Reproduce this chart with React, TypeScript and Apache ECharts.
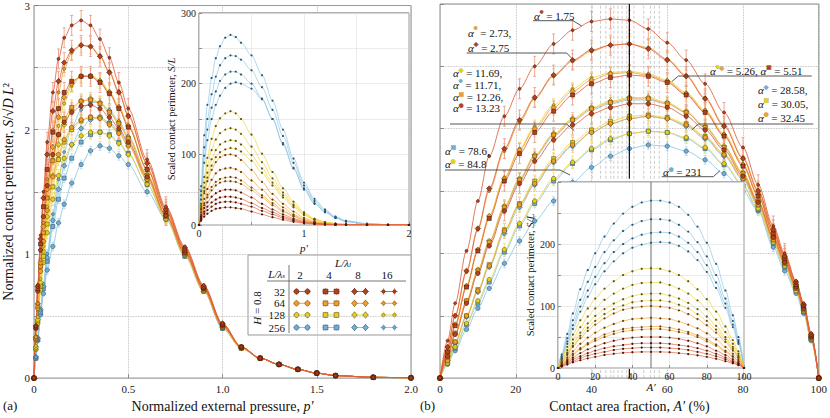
import React, { useEffect, useRef } from "react";
import * as echarts from "echarts";

const FONT = '"Liberation Serif", "DejaVu Serif", serif';

// ---------- panel (a): S/(sqrt(D) L^2) vs p' ----------
const P_A = [0, 0.01, 0.02, 0.035, 0.05, 0.07, 0.1, 0.13, 0.16, 0.2, 0.25, 0.3, 0.35, 0.4, 0.45, 0.5, 0.6, 0.7, 0.8, 0.9, 1.0, 1.1, 1.2, 1.3, 1.4, 1.5, 1.6, 1.8, 2.0];
const A_R2 = [0, 0.42, 0.75, 1.15, 1.5, 1.9, 2.3, 2.57, 2.74, 2.84, 2.88, 2.84, 2.73, 2.58, 2.38, 2.17, 1.76, 1.38, 1.06, 0.75, 0.44, 0.25, 0.16, 0.11, 0.07, 0.04, 0.02, 0.006, 0.002];
const A_R4 = [0, 0.42, 0.74, 1.12, 1.45, 1.8, 2.15, 2.39, 2.54, 2.64, 2.68, 2.67, 2.59, 2.46, 2.3, 2.11, 1.73, 1.36, 1.05, 0.74, 0.44, 0.25, 0.16, 0.11, 0.07, 0.04, 0.02, 0.006, 0.002];
const A_O4 = [0, 0.33, 0.6, 0.95, 1.25, 1.6, 2.0, 2.3, 2.49, 2.62, 2.68, 2.67, 2.6, 2.47, 2.31, 2.12, 1.73, 1.36, 1.04, 0.74, 0.43, 0.25, 0.16, 0.11, 0.07, 0.04, 0.02, 0.006, 0.002];
const A_R8 = [0, 0.41, 0.72, 1.08, 1.38, 1.68, 1.98, 2.17, 2.3, 2.39, 2.43, 2.43, 2.38, 2.29, 2.17, 2.02, 1.68, 1.34, 1.03, 0.73, 0.43, 0.25, 0.16, 0.11, 0.07, 0.04, 0.02, 0.006, 0.002];
const A_O8 = [0, 0.33, 0.6, 0.93, 1.22, 1.52, 1.86, 2.1, 2.26, 2.37, 2.43, 2.43, 2.39, 2.3, 2.18, 2.03, 1.68, 1.34, 1.03, 0.73, 0.43, 0.25, 0.16, 0.11, 0.07, 0.04, 0.02, 0.006, 0.002];
const A_Y8 = [0, 0.26, 0.49, 0.8, 1.06, 1.38, 1.76, 2.03, 2.21, 2.35, 2.43, 2.44, 2.4, 2.31, 2.19, 2.04, 1.69, 1.34, 1.03, 0.73, 0.43, 0.25, 0.16, 0.11, 0.07, 0.04, 0.02, 0.006, 0.002];
const A_R16 = [0, 0.4, 0.7, 1.03, 1.3, 1.55, 1.8, 1.96, 2.06, 2.14, 2.19, 2.2, 2.17, 2.1, 2.01, 1.9, 1.62, 1.31, 1.01, 0.72, 0.42, 0.25, 0.16, 0.11, 0.07, 0.04, 0.02, 0.006, 0.002];
const A_O16 = [0, 0.32, 0.58, 0.9, 1.17, 1.45, 1.75, 1.96, 2.09, 2.18, 2.23, 2.24, 2.21, 2.14, 2.05, 1.93, 1.63, 1.31, 1.01, 0.72, 0.42, 0.25, 0.16, 0.11, 0.07, 0.04, 0.02, 0.006, 0.002];
const A_Y16 = [0, 0.25, 0.47, 0.77, 1.02, 1.3, 1.63, 1.88, 2.04, 2.16, 2.23, 2.25, 2.22, 2.15, 2.06, 1.94, 1.64, 1.31, 1.01, 0.72, 0.42, 0.25, 0.16, 0.11, 0.07, 0.04, 0.02, 0.006, 0.002];
const A_B16 = [0, 0.17, 0.33, 0.56, 0.76, 1.0, 1.32, 1.6, 1.82, 2.02, 2.16, 2.22, 2.22, 2.16, 2.07, 1.95, 1.64, 1.31, 1.01, 0.71, 0.41, 0.24, 0.16, 0.11, 0.07, 0.04, 0.02, 0.006, 0.002];
const A_O32 = [0, 0.31, 0.56, 0.86, 1.1, 1.35, 1.62, 1.8, 1.92, 2.02, 2.08, 2.1, 2.09, 2.04, 1.97, 1.87, 1.6, 1.3, 1.0, 0.71, 0.41, 0.24, 0.16, 0.11, 0.07, 0.04, 0.02, 0.006, 0.002];
const A_Y32 = [0, 0.24, 0.46, 0.74, 0.98, 1.24, 1.54, 1.76, 1.9, 2.0, 2.07, 2.1, 2.1, 2.05, 1.98, 1.88, 1.6, 1.3, 1.0, 0.71, 0.41, 0.24, 0.16, 0.11, 0.07, 0.04, 0.02, 0.006, 0.002];
const A_B32 = [0, 0.17, 0.32, 0.55, 0.74, 0.97, 1.27, 1.52, 1.71, 1.88, 2.01, 2.08, 2.1, 2.06, 1.99, 1.89, 1.6, 1.29, 0.99, 0.7, 0.41, 0.24, 0.16, 0.11, 0.07, 0.04, 0.02, 0.006, 0.002];
const A_Y64 = [0, 0.23, 0.44, 0.71, 0.93, 1.17, 1.44, 1.63, 1.77, 1.88, 1.95, 1.98, 1.98, 1.95, 1.89, 1.8, 1.56, 1.28, 0.99, 0.7, 0.41, 0.24, 0.16, 0.11, 0.07, 0.04, 0.02, 0.006, 0.002];
const A_B64 = [0, 0.16, 0.31, 0.53, 0.72, 0.94, 1.22, 1.44, 1.61, 1.77, 1.9, 1.96, 1.98, 1.96, 1.9, 1.81, 1.56, 1.28, 0.98, 0.7, 0.4, 0.24, 0.16, 0.11, 0.07, 0.04, 0.02, 0.006, 0.002];
const A_B128 = [0, 0.16, 0.3, 0.51, 0.68, 0.87, 1.06, 1.25, 1.4, 1.57, 1.72, 1.83, 1.87, 1.85, 1.79, 1.72, 1.5, 1.28, 0.99, 0.7, 0.4, 0.24, 0.16, 0.11, 0.07, 0.04, 0.02, 0.006, 0.002];

// ---------- panel (b): S/(sqrt(D) L^2) vs A' (%) ----------
const A_B = [0, 2, 4, 7, 10, 13, 17, 21, 25, 30, 35, 40, 45, 50, 55, 60, 65, 70, 75, 80, 84, 88, 91, 94, 96, 98, 100];
const B_R2 = [0, 0.3, 0.6, 1.02, 1.42, 1.78, 2.1, 2.32, 2.5, 2.68, 2.79, 2.86, 2.88, 2.87, 2.8, 2.69, 2.55, 2.36, 2.13, 1.85, 1.55, 1.22, 1.0, 0.78, 0.6, 0.36, 0];
const B_R4 = [0, 0.25, 0.5, 0.86, 1.2, 1.52, 1.84, 2.07, 2.25, 2.43, 2.55, 2.63, 2.67, 2.68, 2.64, 2.55, 2.42, 2.24, 2.02, 1.76, 1.5, 1.19, 0.98, 0.77, 0.59, 0.35, 0];
const B_O4 = [0, 0.25, 0.5, 0.85, 1.19, 1.5, 1.82, 2.05, 2.24, 2.42, 2.54, 2.62, 2.67, 2.68, 2.65, 2.56, 2.43, 2.25, 2.03, 1.77, 1.51, 1.2, 0.98, 0.77, 0.59, 0.35, 0];
const B_R8 = [0, 0.21, 0.42, 0.73, 1.02, 1.28, 1.58, 1.8, 1.97, 2.14, 2.27, 2.36, 2.41, 2.43, 2.42, 2.37, 2.27, 2.13, 1.94, 1.7, 1.46, 1.16, 0.96, 0.75, 0.58, 0.34, 0];
const B_O8 = [0, 0.21, 0.43, 0.74, 1.03, 1.3, 1.6, 1.83, 2.0, 2.17, 2.3, 2.39, 2.44, 2.45, 2.43, 2.38, 2.28, 2.14, 1.95, 1.71, 1.47, 1.17, 0.96, 0.75, 0.58, 0.34, 0];
const B_Y8 = [0, 0.21, 0.43, 0.74, 1.03, 1.3, 1.61, 1.84, 2.02, 2.19, 2.32, 2.41, 2.45, 2.46, 2.44, 2.39, 2.29, 2.15, 1.96, 1.72, 1.47, 1.17, 0.96, 0.75, 0.58, 0.34, 0];
const B_R16 = [0, 0.17, 0.35, 0.6, 0.84, 1.06, 1.34, 1.56, 1.74, 1.91, 2.03, 2.12, 2.17, 2.2, 2.2, 2.17, 2.1, 1.99, 1.83, 1.62, 1.41, 1.13, 0.93, 0.73, 0.56, 0.33, 0];
const B_O16 = [0, 0.18, 0.36, 0.62, 0.86, 1.09, 1.37, 1.59, 1.78, 1.95, 2.07, 2.16, 2.21, 2.24, 2.24, 2.2, 2.13, 2.01, 1.85, 1.64, 1.42, 1.13, 0.93, 0.73, 0.56, 0.33, 0];
const B_Y16 = [0, 0.18, 0.36, 0.62, 0.87, 1.1, 1.38, 1.6, 1.79, 1.96, 2.08, 2.17, 2.22, 2.25, 2.25, 2.21, 2.14, 2.02, 1.86, 1.65, 1.42, 1.13, 0.93, 0.73, 0.56, 0.33, 0];
const B_B16 = [0, 0.17, 0.35, 0.61, 0.85, 1.08, 1.36, 1.58, 1.77, 1.94, 2.06, 2.15, 2.2, 2.23, 2.23, 2.2, 2.13, 2.01, 1.85, 1.64, 1.41, 1.12, 0.92, 0.72, 0.55, 0.32, 0];
const B_O32 = [0, 0.14, 0.29, 0.5, 0.7, 0.9, 1.18, 1.39, 1.56, 1.74, 1.87, 1.97, 2.04, 2.08, 2.1, 2.08, 2.03, 1.93, 1.79, 1.6, 1.39, 1.11, 0.92, 0.72, 0.55, 0.32, 0];
const B_Y32 = [0, 0.14, 0.29, 0.5, 0.71, 0.91, 1.19, 1.4, 1.58, 1.76, 1.89, 1.99, 2.06, 2.1, 2.11, 2.09, 2.04, 1.94, 1.8, 1.61, 1.39, 1.11, 0.92, 0.72, 0.55, 0.32, 0];
const B_B32 = [0, 0.14, 0.28, 0.49, 0.69, 0.89, 1.16, 1.37, 1.55, 1.73, 1.86, 1.97, 2.04, 2.08, 2.1, 2.08, 2.02, 1.92, 1.78, 1.59, 1.38, 1.1, 0.91, 0.71, 0.54, 0.31, 0];
const B_Y64 = [0, 0.12, 0.25, 0.44, 0.62, 0.79, 1.03, 1.24, 1.42, 1.6, 1.73, 1.84, 1.92, 1.96, 1.98, 1.97, 1.93, 1.85, 1.72, 1.55, 1.36, 1.09, 0.9, 0.7, 0.54, 0.31, 0];
const B_B64 = [0, 0.12, 0.24, 0.43, 0.6, 0.77, 1.01, 1.22, 1.4, 1.58, 1.72, 1.83, 1.91, 1.96, 1.98, 1.97, 1.92, 1.84, 1.71, 1.54, 1.35, 1.08, 0.89, 0.7, 0.53, 0.31, 0];
const B_B128 = [0, 0.11, 0.22, 0.39, 0.56, 0.72, 0.92, 1.1, 1.26, 1.42, 1.57, 1.69, 1.78, 1.84, 1.87, 1.86, 1.82, 1.75, 1.64, 1.5, 1.34, 1.05, 0.86, 0.68, 0.52, 0.3, 0];

// ---------- inset (a): S/L vs p' ----------
const P_IA = [0, 0.02, 0.05, 0.08, 0.12, 0.16, 0.2, 0.25, 0.3, 0.35, 0.4, 0.5, 0.6, 0.7, 0.8, 0.9, 1.0, 1.1, 1.2, 1.3, 1.4, 1.6, 1.8, 2.0];
const IA_B16 = [0, 55, 127, 170, 208, 236, 253, 265, 269, 266, 258, 240, 212, 176, 135, 94, 60, 37, 22, 12, 6, 2, 0.5, 0];
const IA_B32 = [0, 48, 110, 150, 185, 210, 226, 236, 240, 239, 234, 219, 195, 163, 126, 88, 56, 34, 20, 11, 5, 1.5, 0.4, 0];
const IA_B64 = [0, 42, 98, 135, 166, 189, 204, 213, 217, 217, 213, 200, 179, 150, 116, 81, 52, 31, 18, 10, 5, 1.5, 0.4, 0];
const IA_B128 = [0, 36, 88, 120, 150, 170, 183, 194, 200, 202, 200, 193, 178, 150, 114, 80, 50, 30, 19, 10, 5, 1.5, 0.4, 0];
const IA_Y8 = [0, 30, 68, 95, 122, 140, 151, 158, 161, 158, 150, 128, 101, 75, 52, 33, 18, 9, 4, 2, 1, 0.3, 0, 0];
const IA_Y16 = [0, 27, 60, 84, 106, 121, 130, 135, 137, 135, 129, 111, 89, 66, 46, 29, 16, 8, 4, 2, 1, 0.3, 0, 0];
const IA_Y32 = [0, 24, 53, 74, 93, 106, 114, 118, 120, 119, 114, 99, 80, 60, 42, 27, 15, 8, 4, 2, 1, 0.3, 0, 0];
const IA_Y64 = [0, 22, 48, 67, 84, 96, 103, 107, 109, 108, 104, 91, 74, 56, 39, 25, 14, 7, 3, 1.5, 0.8, 0.2, 0, 0];
const IA_O4 = [0, 22, 45, 62, 78, 89, 96, 99, 100, 98, 92, 78, 61, 44, 30, 19, 10, 5, 2.5, 1.2, 0.5, 0.1, 0, 0];
const IA_O8 = [0, 18, 37, 51, 64, 73, 78, 80, 81, 79, 75, 63, 50, 36, 25, 15, 8, 4, 2, 1, 0.4, 0.1, 0, 0];
const IA_O16 = [0, 15, 31, 43, 54, 61, 65, 67, 68, 67, 63, 53, 42, 31, 21, 13, 7, 3.5, 1.7, 0.8, 0.3, 0.1, 0, 0];
const IA_O32 = [0, 14, 28, 39, 49, 56, 60, 62, 62, 61, 58, 49, 39, 28, 19, 12, 6.5, 3.2, 1.5, 0.7, 0.3, 0.1, 0, 0];
const IA_R2 = [0, 12, 24, 32, 40, 45, 48, 50, 50, 49, 46, 39, 30, 22, 15, 9, 5, 2.5, 1.2, 0.6, 0.3, 0, 0, 0];
const IA_R4 = [0, 10, 19, 26, 32, 36, 39, 40, 40, 39, 37, 31, 24, 18, 12, 7.5, 4, 2, 1, 0.5, 0.2, 0, 0, 0];
const IA_R8 = [0, 8, 16, 21, 26, 30, 32, 33, 33, 32, 30, 26, 20, 15, 10, 6, 3.3, 1.7, 0.8, 0.4, 0.2, 0, 0, 0];
const IA_R16 = [0, 6, 12, 16, 20, 23, 24, 25, 25, 24, 23, 19, 15, 11, 7.5, 4.5, 2.5, 1.3, 0.6, 0.3, 0.1, 0, 0, 0];

// ---------- inset (b): S/L vs A' ----------
const A_IB = [0, 2, 5, 8, 12, 16, 20, 25, 30, 35, 40, 45, 50, 55, 60, 65, 70, 75, 80, 85, 90, 94, 97, 100];
const IB_B16 = [0, 22, 55, 88, 127, 158, 185, 212, 233, 249, 260, 267, 270, 270, 267, 260, 247, 228, 202, 168, 125, 85, 50, 0];
const IB_B32 = [0, 19, 48, 77, 110, 139, 163, 187, 206, 221, 231, 237, 240, 240, 238, 231, 220, 203, 180, 150, 112, 76, 45, 0];
const IB_B64 = [0, 17, 43, 69, 99, 125, 147, 169, 187, 200, 209, 215, 218, 219, 218, 212, 202, 187, 166, 138, 104, 70, 42, 0];
const IB_B128 = [0, 15, 39, 63, 91, 115, 135, 156, 172, 185, 194, 199, 202, 203, 202, 197, 188, 174, 155, 129, 97, 66, 39, 0];
const IB_Y8 = [0, 14, 34, 54, 77, 96, 112, 128, 140, 150, 156, 160, 161, 160, 156, 150, 140, 127, 111, 91, 67, 45, 27, 0];
const IB_Y16 = [0, 12, 29, 46, 66, 83, 96, 110, 120, 128, 134, 137, 138, 138, 134, 128, 120, 109, 95, 78, 58, 39, 23, 0];
const IB_Y32 = [0, 10, 25, 40, 57, 72, 84, 95, 104, 111, 116, 119, 120, 120, 117, 112, 105, 95, 83, 68, 50, 34, 20, 0];
const IB_Y64 = [0, 9, 23, 36, 52, 65, 76, 87, 95, 101, 106, 108, 109, 109, 107, 102, 96, 87, 76, 62, 46, 31, 18, 0];
const IB_O4 = [0, 9, 21, 34, 48, 60, 70, 80, 88, 94, 97, 99, 100, 99, 97, 93, 87, 79, 69, 57, 42, 28, 17, 0];
const IB_O8 = [0, 7, 17, 27, 39, 49, 57, 65, 71, 76, 79, 80, 81, 80, 79, 75, 70, 64, 56, 46, 34, 23, 14, 0];
const IB_O16 = [0, 6, 14, 23, 32, 40, 47, 54, 59, 63, 65, 66, 67, 67, 65, 62, 58, 53, 46, 38, 28, 19, 11, 0];
const IB_O32 = [0, 5, 13, 21, 30, 38, 44, 50, 55, 59, 61, 62, 63, 63, 61, 58, 55, 50, 43, 36, 26, 18, 11, 0];
const IB_R2 = [0, 4, 11, 17, 24, 30, 35, 40, 44, 47, 49, 50, 50, 50, 49, 47, 44, 40, 35, 28, 21, 14, 8, 0];
const IB_R4 = [0, 3.5, 9, 14, 19, 24, 28, 32, 35, 37, 39, 40, 40, 40, 39, 37, 35, 32, 28, 23, 17, 11, 7, 0];
const IB_R8 = [0, 3, 7, 11, 16, 20, 23, 26, 29, 31, 32, 33, 33, 33, 32, 31, 29, 26, 23, 19, 14, 9, 5.5, 0];
const IB_R16 = [0, 2.3, 5.5, 9, 12.5, 15.5, 18, 21, 23, 24.5, 25.5, 26, 26, 26, 25.5, 24, 22.5, 20.5, 18, 15, 11, 7.5, 4.5, 0];

// peak positions (dashed guides) in panel (b)
const PEAK_LINES = [40.2, 42.4, 43.8, 45.1, 45.9, 47, 48.1, 49.3, 51.2, 53.8, 55.6, 56.6, 57.9];
const HALF_LINE = [50];
// typical error-bar half widths per L/lambda_s
const ERR_BY_S: Record<number, number> = { 32: 0.08, 64: 0.06, 128: 0.05, 256: 0.035 };
const LS_VALUES = [32, 64, 128, 256];
const LL_VALUES = [2, 4, 8, 16];

const COL: Record<number, { line: string; fill: string; edge: string; err: string }> = {
  32: { line: "#e0603c", fill: "#b3421e", edge: "#4a1606", err: "#eb9f87" },
  64: { line: "#f2a43c", fill: "#f0a02a", edge: "#6b3f0c", err: "#f6c98e" },
  128: { line: "#efd43c", fill: "#e6cf18", edge: "#5e5610", err: "#f1e285" },
  256: { line: "#8ec6e4", fill: "#70aed2", edge: "#2c5670", err: "#b6daee" },
};
const SHAPE: Record<number, { sym: string; size: number; glyph: string; gsize: number }> = {
  2: { sym: "circle", size: 4.4, glyph: "●", gsize: 5.5 },
  4: { sym: "rect", size: 4, glyph: "■", gsize: 5.5 },
  8: { sym: "diamond", size: 5.4, glyph: "◆", gsize: 6 },
  16: { sym: "circle", size: 3, glyph: "●", gsize: 4.2 },
};

const CURVES = [
  { k: "B128", s: 256, l: 2, a: A_B128, b: B_B128, ia: IA_B128, ib: IB_B128 },
  { k: "B64", s: 256, l: 4, a: A_B64, b: B_B64, ia: IA_B64, ib: IB_B64 },
  { k: "B32", s: 256, l: 8, a: A_B32, b: B_B32, ia: IA_B32, ib: IB_B32 },
  { k: "B16", s: 256, l: 16, a: A_B16, b: B_B16, ia: IA_B16, ib: IB_B16 },
  { k: "Y64", s: 128, l: 2, a: A_Y64, b: B_Y64, ia: IA_Y64, ib: IB_Y64 },
  { k: "Y32", s: 128, l: 4, a: A_Y32, b: B_Y32, ia: IA_Y32, ib: IB_Y32 },
  { k: "Y16", s: 128, l: 8, a: A_Y16, b: B_Y16, ia: IA_Y16, ib: IB_Y16 },
  { k: "Y8", s: 128, l: 16, a: A_Y8, b: B_Y8, ia: IA_Y8, ib: IB_Y8 },
  { k: "O32", s: 64, l: 2, a: A_O32, b: B_O32, ia: IA_O32, ib: IB_O32 },
  { k: "O16", s: 64, l: 4, a: A_O16, b: B_O16, ia: IA_O16, ib: IB_O16 },
  { k: "O8", s: 64, l: 8, a: A_O8, b: B_O8, ia: IA_O8, ib: IB_O8 },
  { k: "O4", s: 64, l: 16, a: A_O4, b: B_O4, ia: IA_O4, ib: IB_O4 },
  { k: "R16", s: 32, l: 2, a: A_R16, b: B_R16, ia: IA_R16, ib: IB_R16 },
  { k: "R8", s: 32, l: 4, a: A_R8, b: B_R8, ia: IA_R8, ib: IB_R8 },
  { k: "R4", s: 32, l: 8, a: A_R4, b: B_R4, ia: IA_R4, ib: IB_R4 },
  { k: "R2", s: 32, l: 16, a: A_R2, b: B_R2, ia: IA_R2, ib: IB_R2 },
];

// annotation labels in panel (b). A key prefixed with "+" adds a marker to the previous α.
const ANNOTATIONS: { lines: [string, string][][]; x: number; y: number; lh: number; leader: number[][] }[] = [
  { lines: [[["R2", " = 1.75"]]], x: 534, y: 9.5, lh: 12.5, leader: [[533, 20.7], [573, 20.7], [581.7, 26]] },
  { lines: [[["O4", " = 2.73,"]], [["R4", " = 2.75"]]], x: 468, y: 25.8, lh: 15, leader: [[466.7, 53], [566.7, 53], [573.3, 60]] },
  { lines: [[["Y16", " = 11.69,"]], [["B16", " = 11.71,"]], [["O16", " = 12.26,"]], [["R16", " = 13.23"]]], x: 453, y: 66.8, lh: 11.9, leader: [[450, 124], [566.7, 124], [574.3, 130.7]] },
  { lines: [[["Y8", ""], ["+O8", " = 5.26, "], ["R8", " = 5.51"]]], x: 710, y: 64.4, lh: 12.5, leader: [[671.7, 81.7], [678.3, 76], [811.7, 76]] },
  { lines: [[["B32", " = 28.58,"]], [["Y32", " = 30.05,"]], [["O32", " = 32.45"]]], x: 758, y: 83, lh: 13.8, leader: [[691.7, 130], [698.3, 124], [813.3, 124]] },
  { lines: [[["B64", " = 78.6,"]], [["Y64", " = 84.8"]]], x: 445, y: 144.3, lh: 13.3, leader: [[445, 170], [560, 170], [570, 175]] },
  { lines: [[["B128", " = 231"]]], x: 663, y: 165.5, lh: 12.5, leader: [[661.7, 176.7], [713.3, 176.7], [720, 170.7]] },
];

// layout boxes
const MAIN_A = { left: 34, top: 4, width: 377, height: 381 };
const MAIN_B = { left: 440, top: 4, width: 381, height: 381 };
const INSET_A = { left: 199, top: 13, width: 210, height: 212 };
const INSET_B = { left: 558, top: 182, width: 186, height: 186 };
const Y_MAX_MAIN = 3;

function curveByKey(k: string) {
  return CURVES.find((c) => c.k === k)!;
}

function richStyles(lh: number) {
  const r: any = {
    a: { fontFamily: FONT, fontSize: 11, fontStyle: "italic", fill: "#111", lineHeight: lh },
    t: { fontFamily: FONT, fontSize: 11, fill: "#111", lineHeight: lh },
  };
  CURVES.forEach((c) => {
    const sh = SHAPE[c.l];
    r["m" + c.k] = {
      fontSize: sh.gsize,
      fill: COL[c.s].fill,
      stroke: COL[c.s].edge,
      lineWidth: 0.3,
      lineHeight: 7,
      verticalAlign: "top",
      fontFamily: '"DejaVu Sans", sans-serif',
    };
  });
  return r;
}

function annotationText(lines: [string, string][][]) {
  return lines
    .map((line) =>
      line
        .map(([key, t]) => {
          const plain = key.startsWith("+");
          const k = plain ? key.slice(1) : key;
          const glyph = SHAPE[curveByKey(k).l].glyph;
          return (plain ? "" : "{a|α}") + `{m${k}|${glyph}}` + (t ? `{t|${t}}` : "");
        })
        .join("")
    )
    .join("\n");
}

function errorSeries(xs: number[], ys: number[], s: number, xi: number, from: number, to: number) {
  const e = ERR_BY_S[s];
  const data: number[][] = [];
  xs.forEach((x, i) => {
    if (i >= from && i <= to && ys[i] > 0.3) data.push([x, ys[i], e]);
  });
  const col = COL[s].err;
  return {
    type: "custom",
    xAxisIndex: xi,
    yAxisIndex: xi,
    z: 2,
    silent: true,
    clip: true,
    data,
    renderItem: (_p: any, api: any) => {
      const x = api.value(0), y = api.value(1), er = api.value(2);
      const p1 = api.coord([x, y + er]);
      const p2 = api.coord([x, y - er]);
      const st = { stroke: col, lineWidth: 0.9 };
      return {
        type: "group",
        children: [
          { type: "line", shape: { x1: p1[0], y1: p1[1], x2: p2[0], y2: p2[1] }, style: st },
          { type: "line", shape: { x1: p1[0] - 1.5, y1: p1[1], x2: p1[0] + 1.5, y2: p1[1] }, style: st },
          { type: "line", shape: { x1: p2[0] - 1.5, y1: p2[1], x2: p2[0] + 1.5, y2: p2[1] }, style: st },
        ],
      };
    },
  };
}

// vertical guide segments (value ranges) as plain line series
function vlineSeries(xi: number, values: number[], spans: number[][], style: any, z: number) {
  const out: any[] = [];
  values.forEach((v) =>
    spans.forEach(([y0, y1]) =>
      out.push({
        type: "line",
        xAxisIndex: xi,
        yAxisIndex: xi,
        z,
        silent: true,
        symbol: "none",
        data: [[v, y0], [v, y1]],
        lineStyle: style,
      })
    )
  );
  return out;
}

function lineSeries(xs: number[], ys: number[], c: any, idx: number, inset: boolean) {
  const sh = SHAPE[c.l];
  return {
    type: "line",
    xAxisIndex: idx,
    yAxisIndex: idx,
    data: xs.map((x, i) => [x, ys[i]]),
    smooth: 0.3,
    smoothMonotone: "x",
    symbol: inset ? "circle" : sh.sym,
    symbolSize: inset ? 2.2 : sh.size,
    showSymbol: true,
    z: inset ? 12 : 3,
    silent: true,
    clip: true,
    lineStyle: { color: COL[c.s].line, width: inset ? 0.7 : 0.85 },
    itemStyle: inset
      ? { color: COL[c.s].edge, borderWidth: 0 }
      : { color: COL[c.s].fill, borderColor: COL[c.s].edge, borderWidth: 0.6 },
  };
}

const axisNameRich = (fs: number) => ({
  n: { fontFamily: FONT, fontSize: fs, color: "#111" },
  i: { fontFamily: FONT, fontSize: fs, color: "#111", fontStyle: "italic" },
});

function buildLegend() {
  const children: any[] = [];
  const bx = 248, by = 255;
  children.push({ type: "rect", shape: { x: bx, y: by, width: 163, height: 80 }, style: { fill: "#fff", stroke: "#999", lineWidth: 1 } });
  const txt = (x: number, y: number, text: string, align = "center", fs = 11, rich?: any) => ({
    type: "text",
    x,
    y,
    style: { text, align, verticalAlign: "middle", fontFamily: FONT, fontSize: fs, fill: "#111", rich },
  });
  const lrich = {
    i: { fontFamily: FONT, fontSize: 11, fontStyle: "italic", fill: "#111" },
    sub: { fontFamily: FONT, fontSize: 7, fontStyle: "italic", fill: "#111", verticalAlign: "bottom", lineHeight: 6 },
  };
  children.push(txt(343, 263, "{i|L/λ}{sub|l}", "center", 11, lrich));
  children.push(txt(285, 274, "{i|L/λ}{sub|s}", "right", 11, lrich));
  const colX = [302, 331, 360, 389];
  LL_VALUES.forEach((v, j) => children.push(txt(colX[j] - 2, 275, String(v))));
  children.push({ type: "line", shape: { x1: 267, y1: 281, x2: 406, y2: 281 }, style: { stroke: "#555", lineWidth: 0.8 } });
  children.push({ type: "line", shape: { x1: 289, y1: 265, x2: 289, y2: 333 }, style: { stroke: "#555", lineWidth: 0.8 } });
  const rowY = [291.5, 303.3, 315, 327.5];
  LS_VALUES.forEach((v, r) => children.push(txt(285, rowY[r], String(v), "right")));
  children.push({
    type: "text",
    x: 257,
    y: 308,
    rotation: Math.PI / 2,
    style: { text: "{i|H} = 0.8", align: "center", verticalAlign: "middle", fontFamily: FONT, fontSize: 11, fill: "#111", rich: { i: { fontFamily: FONT, fontSize: 11, fontStyle: "italic", fill: "#111" } } },
  });
  LS_VALUES.forEach((s, r) => {
    LL_VALUES.forEach((l, j) => {
      const cx = colX[j], cy = rowY[r];
      const c = COL[s];
      children.push({ type: "line", shape: { x1: cx - 8.5, y1: cy, x2: cx + 8.5, y2: cy }, style: { stroke: c.line, lineWidth: 1 } });
      [cx - 5.5, cx + 5.5].forEach((mx) => {
        children.push({ type: "line", shape: { x1: mx, y1: cy - 3.6, x2: mx, y2: cy + 3.6 }, style: { stroke: c.err, lineWidth: 0.9 } });
        const st = { fill: c.fill, stroke: c.edge, lineWidth: 0.6 };
        if (l === 2) children.push({ type: "circle", shape: { cx: mx, cy, r: 2.5 }, style: st });
        else if (l === 4) children.push({ type: "rect", shape: { x: mx - 2.4, y: cy - 2.4, width: 4.8, height: 4.8 }, style: st });
        else if (l === 8) children.push({ type: "polygon", shape: { points: [[mx, cy - 3.2], [mx + 2.8, cy], [mx, cy + 3.2], [mx - 2.8, cy]] }, style: st });
        else children.push({ type: "circle", shape: { cx: mx, cy, r: 1.7 }, style: st });
      });
    });
  });
  return { type: "group", z: 20, children };
}

function buildAnnotations() {
  const els: any[] = [];
  ANNOTATIONS.forEach((an) => {
    els.push({
      type: "text",
      x: an.x,
      y: an.y,
      z: 20,
      style: { text: annotationText(an.lines), align: "left", verticalAlign: "top", rich: richStyles(an.lh), fontFamily: FONT, fontSize: 11, fill: "#111" },
    });
    els.push({ type: "polyline", z: 20, shape: { points: an.leader }, style: { stroke: "#444", lineWidth: 0.9, fill: null } });
  });
  return els;
}

function insetBackground(b: { left: number; top: number; width: number; height: number }) {
  return {
    type: "rect",
    z: 6,
    silent: true,
    shape: { x: b.left, y: b.top, width: b.width, height: b.height },
    style: { fill: "#fff", stroke: "#999", lineWidth: 1 },
  };
}

function buildOption() {
  // value of panel (b)'s y axis at the inset's top and bottom edges: guides are drawn only outside the inset
  const bottomPx = MAIN_B.top + MAIN_B.height;
  const vTop = ((bottomPx - INSET_B.top) / MAIN_B.height) * Y_MAX_MAIN;
  const vBot = ((bottomPx - (INSET_B.top + INSET_B.height)) / MAIN_B.height) * Y_MAX_MAIN;
  const spans = [[0, vBot], [vTop, Y_MAX_MAIN]];

  const series: any[] = [];
  series.push(...vlineSeries(1, PEAK_LINES, spans, { color: "#a8a8a8", width: 0.6, type: [3, 2] }, 1));
  CURVES.forEach((c) => {
    series.push(errorSeries(P_A, c.a, c.s, 0, 5, 17));
    series.push(lineSeries(P_A, c.a, c, 0, false));
    series.push(errorSeries(A_B, c.b, c.s, 1, 6, 22));
    series.push(lineSeries(A_B, c.b, c, 1, false));
  });
  series.push(...vlineSeries(1, HALF_LINE, spans, { color: "#111", width: 1.2, type: "solid" }, 4));
  series.push(...vlineSeries(3, HALF_LINE, [[0, 300]], { color: "#777", width: 1.1, type: "solid" }, 11));
  CURVES.forEach((c) => {
    series.push(lineSeries(P_IA, c.ia, c, 2, true));
    series.push(lineSeries(A_IB, c.ib, c, 3, true));
  });

  const mainSplit = { show: true, lineStyle: { color: "#b0b0b0", type: "dotted", width: 0.8 } };
  const insetSplit = { show: true, lineStyle: { color: "#dedede", type: "solid", width: 0.6 } };
  const lab = (fs: number, extra: any = {}) => ({ fontFamily: FONT, fontSize: fs, color: "#222", ...extra });
  const tick = (len: number) => ({ show: true, inside: true, length: len, lineStyle: { color: "#777", width: 0.8 } });
  const noLine = { show: false };

  return {
    animation: false,
    backgroundColor: "#fff",
    textStyle: { fontFamily: FONT },
    grid: [
      { ...MAIN_A, show: true, borderColor: "#8a8a8a", borderWidth: 1, z: 0 },
      { ...MAIN_B, show: true, borderColor: "#8a8a8a", borderWidth: 1, z: 0 },
      { ...INSET_A, show: true, borderColor: "#999", backgroundColor: "#fff", z: 6 },
      { ...INSET_B, show: true, borderColor: "#999", backgroundColor: "#fff", z: 6 },
    ],
    xAxis: [
      {
        type: "value", gridIndex: 0, min: 0, max: 2, interval: 0.5,
        axisLine: noLine, axisTick: tick(4), splitLine: mainSplit,
        axisLabel: lab(11, { margin: 5, formatter: (v: number) => (v === 0 ? "0" : v.toFixed(1)) }),
        name: "{n|Normalized external pressure, }{i|p′}", nameLocation: "middle", nameGap: 19,
        nameTextStyle: { rich: axisNameRich(14) },
      },
      {
        type: "value", gridIndex: 1, min: 0, max: 100, interval: 20,
        axisLine: noLine, axisTick: tick(4), splitLine: mainSplit,
        axisLabel: lab(11, { margin: 5 }),
        name: "{n|Contact area fraction, }{i|A′}{n| (%)}", nameLocation: "middle", nameGap: 19,
        nameTextStyle: { rich: axisNameRich(14) },
      },
      {
        type: "value", gridIndex: 2, min: 0, max: 2, interval: 0.5, z: 10,
        axisLine: noLine, axisTick: tick(3), splitLine: insetSplit,
        axisLabel: lab(10, { margin: 3, formatter: (v: number) => (v % 1 === 0 ? String(v) : "") }),
        name: "{i|p′}", nameLocation: "middle", nameGap: 17,
        nameTextStyle: { rich: axisNameRich(11) },
      },
      {
        type: "value", gridIndex: 3, min: 0, max: 100, interval: 20, z: 10,
        axisLine: noLine, axisTick: tick(3), splitLine: insetSplit,
        axisLabel: lab(10, { margin: 3 }),
        name: "{i|A′}", nameLocation: "middle", nameGap: 10,
        nameTextStyle: { rich: axisNameRich(11) },
      },
    ],
    yAxis: [
      {
        type: "value", gridIndex: 0, min: 0, max: Y_MAX_MAIN, interval: 0.5,
        axisLine: noLine, axisTick: tick(4), splitLine: mainSplit,
        axisLabel: lab(11, { margin: 4, formatter: (v: number) => (v % 1 === 0 ? String(v) : "") }),
        name: "{n|Normalized contact perimeter, }{i|S}{n|/√}{i|D}{n| }{i|L}{n|²}", nameLocation: "middle", nameGap: 19, nameRotate: 90,
        nameTextStyle: { rich: axisNameRich(14) },
      },
      {
        type: "value", gridIndex: 1, min: 0, max: Y_MAX_MAIN, interval: 0.5,
        axisLine: noLine, axisTick: tick(4), splitLine: mainSplit,
        axisLabel: { show: false },
      },
      {
        type: "value", gridIndex: 2, min: 0, max: 300, interval: 50, z: 10,
        axisLine: noLine, axisTick: tick(3), splitLine: insetSplit,
        axisLabel: lab(10, { margin: 3, formatter: (v: number) => (v % 100 === 0 ? String(v) : "") }),
        name: "{n|Scaled contact perimeter, }{i|S/L}", nameLocation: "middle", nameGap: 20, nameRotate: 90,
        nameTextStyle: { rich: axisNameRich(10.5) },
      },
      {
        type: "value", gridIndex: 3, min: 0, max: 300, interval: 50, z: 10,
        axisLine: noLine, axisTick: tick(3), splitLine: insetSplit,
        axisLabel: lab(10, { margin: 3, formatter: (v: number) => (v % 100 === 0 && v < 300 ? String(v) : "") }),
        name: "{n|Scaled contact perimeter, }{i|S/L}", nameLocation: "middle", nameGap: 20, nameRotate: 90,
        nameTextStyle: { rich: axisNameRich(10.5) },
      },
    ],
    series,
    graphic: [
      insetBackground(INSET_A),
      insetBackground(INSET_B),
      { type: "text", x: 3, y: 405, z: 20, style: { text: "(a)", fontFamily: FONT, fontSize: 13, fill: "#111", verticalAlign: "middle" } },
      { type: "text", x: 420, y: 405, z: 20, style: { text: "(b)", fontFamily: FONT, fontSize: 13, fill: "#111", verticalAlign: "middle" } },
      buildLegend(),
      ...buildAnnotations(),
    ],
  };
}

export default function App() {
  const ref = useRef<HTMLDivElement>(null);
  useEffect(() => {
    if (!ref.current) return;
    const chart = echarts.init(ref.current, undefined, { renderer: "svg" });
    chart.setOption(buildOption() as any);
    return () => chart.dispose();
  }, []);
  return <div ref={ref} style={{ position: "absolute", left: 0, top: 0, width: 830, height: 418 }} />;
}
